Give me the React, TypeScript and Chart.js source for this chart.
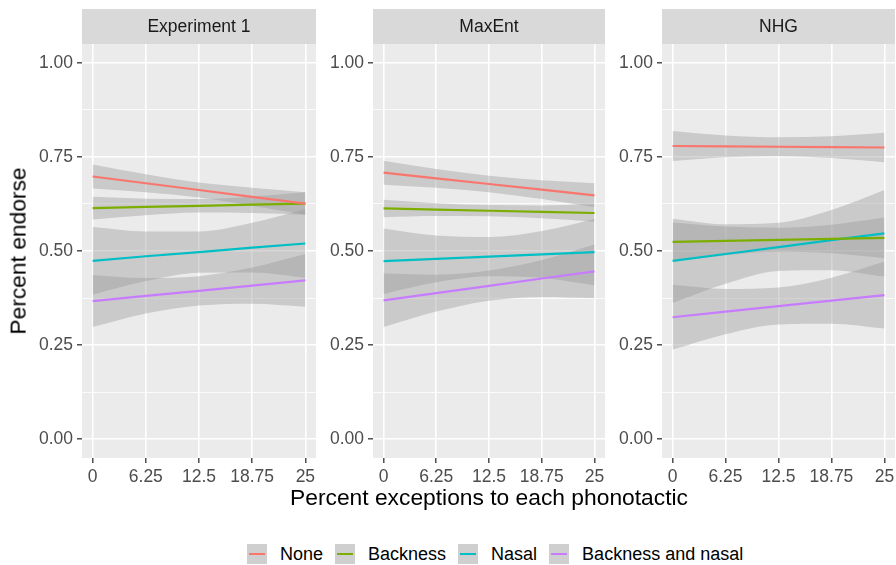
import React, { useEffect, useRef } from "react";
import { Chart, registerables } from "chart.js";

Chart.register(...registerables);

const FONT = '"Liberation Sans", Arial, Helvetica, sans-serif';

// Axis breaks
const xBreaks = [0, 6.25, 12.5, 18.75, 25];
const yBreaks = [0, 0.125, 0.25, 0.375, 0.5, 0.625, 0.75, 0.875, 1];
const yLabelled = [0, 0.25, 0.5, 0.75, 1];

const groups = ["None", "Backness", "Nasal", "Backness and nasal"];
const groupColors = ["#F8766D", "#7CAE00", "#00BFC4", "#C77CFF"];
const facets = ["Experiment 1", "MaxEnt", "NHG"];

// Experiment 1: fitted endorsement at each x break (one row per group) and its confidence band
const experimentFit = [
  [0.698, 0.68, 0.662, 0.644, 0.626],
  [0.614, 0.617, 0.62, 0.623, 0.626],
  [0.474, 0.486, 0.497, 0.509, 0.52],
  [0.367, 0.381, 0.394, 0.408, 0.422],
];
const experimentLower = [
  [0.666, 0.656, 0.642, 0.62, 0.596],
  [0.584, 0.595, 0.602, 0.601, 0.596],
  [0.384, 0.42, 0.442, 0.443, 0.429],
  [0.298, 0.334, 0.355, 0.36, 0.352],
];
const experimentUpper = [
  [0.73, 0.704, 0.682, 0.668, 0.656],
  [0.644, 0.639, 0.638, 0.645, 0.656],
  [0.564, 0.552, 0.552, 0.575, 0.611],
  [0.436, 0.428, 0.433, 0.456, 0.492],
];

// MaxEnt model
const maxEntFit = [
  [0.708, 0.693, 0.678, 0.663, 0.648],
  [0.613, 0.61, 0.607, 0.604, 0.601],
  [0.473, 0.479, 0.485, 0.491, 0.497],
  [0.369, 0.388, 0.4075, 0.427, 0.446],
];
const maxEntLower = [
  [0.676, 0.668, 0.656, 0.638, 0.616],
  [0.59, 0.593, 0.592, 0.587, 0.578],
  [0.386, 0.417, 0.433, 0.429, 0.409],
  [0.298, 0.339, 0.368, 0.378, 0.375],
];
const maxEntUpper = [
  [0.74, 0.718, 0.7, 0.688, 0.68],
  [0.636, 0.627, 0.622, 0.621, 0.624],
  [0.56, 0.541, 0.537, 0.553, 0.585],
  [0.44, 0.437, 0.448, 0.476, 0.517],
];

// NHG model
const nhgFit = [
  [0.779, 0.778, 0.777, 0.776, 0.775],
  [0.524, 0.527, 0.5295, 0.532, 0.535],
  [0.474, 0.492, 0.5105, 0.529, 0.547],
  [0.324, 0.339, 0.3535, 0.368, 0.383],
];
const nhgLower = [
  [0.739, 0.749, 0.752, 0.747, 0.736],
  [0.472, 0.489, 0.498, 0.494, 0.481],
  [0.362, 0.413, 0.447, 0.449, 0.432],
  [0.238, 0.279, 0.305, 0.307, 0.294],
];
const nhgUpper = [
  [0.819, 0.807, 0.802, 0.805, 0.814],
  [0.576, 0.565, 0.562, 0.57, 0.589],
  [0.586, 0.571, 0.575, 0.609, 0.662],
  [0.41, 0.399, 0.403, 0.429, 0.472],
];

const panels = [
  { title: facets[0], fit: experimentFit, lower: experimentLower, upper: experimentUpper, left: 0, width: 316, axisWidth: 82 },
  { title: facets[1], fit: maxEntFit, lower: maxEntLower, upper: maxEntUpper, left: 316, width: 289, axisWidth: 57 },
  { title: facets[2], fit: nhgFit, lower: nhgLower, upper: nhgUpper, left: 605, width: 290, axisWidth: 57 },
];

const RIBBON = "rgba(153,153,153,0.4)";
const PANEL_BG = "#EBEBEB";
const STRIP_BG = "#D9D9D9";
const CANVAS_H = 490;
const X_AXIS_H = 32;

const toPoints = (ys: number[]) => xBreaks.map((x, i) => ({ x, y: ys[i] }));

type PanelProps = {
  title: string;
  fit: number[][];
  lower: number[][];
  upper: number[][];
  left: number;
  width: number;
  axisWidth: number;
};

function Panel({ title, fit, lower, upper, left, width, axisWidth }: PanelProps) {
  const ref = useRef<HTMLCanvasElement | null>(null);

  useEffect(() => {
    if (!ref.current) return;

    const lineSets = fit.map((ys, g) => ({
      type: "line" as const,
      label: groups[g],
      data: toPoints(ys),
      borderColor: groupColors[g],
      borderWidth: 2.2,
      pointRadius: 0,
      fill: false,
      tension: 0,
      order: 0,
    }));

    const bandSets: any[] = [];
    upper.forEach((ys, g) => {
      bandSets.push({
        type: "line",
        label: groups[g] + " upper",
        data: toPoints(ys),
        borderColor: "transparent",
        borderWidth: 0,
        pointRadius: 0,
        backgroundColor: RIBBON,
        fill: "+1",
        cubicInterpolationMode: "monotone",
        order: 1,
      });
      bandSets.push({
        type: "line",
        label: groups[g] + " lower",
        data: toPoints(lower[g]),
        borderColor: "transparent",
        borderWidth: 0,
        pointRadius: 0,
        fill: false,
        cubicInterpolationMode: "monotone",
        order: 1,
      });
    });

    const panelDecor = {
      id: "panelDecor",
      beforeDraw(chart: any) {
        const { ctx, chartArea } = chart;
        ctx.save();
        ctx.fillStyle = PANEL_BG;
        ctx.fillRect(chartArea.left, chartArea.top, chartArea.right - chartArea.left, chartArea.bottom - chartArea.top);
        ctx.fillStyle = STRIP_BG;
        ctx.fillRect(chartArea.left, 9, chartArea.right - chartArea.left, chartArea.top - 9);
        ctx.fillStyle = "#1A1A1A";
        ctx.font = `17.5px ${FONT}`;
        ctx.textAlign = "center";
        ctx.textBaseline = "middle";
        ctx.fillText(title, (chartArea.left + chartArea.right) / 2, 27);
        ctx.restore();
      },
    };

    const chart = new Chart(ref.current, {
      type: "line",
      data: { datasets: [...lineSets, ...bandSets] },
      options: {
        animation: false,
        responsive: false,
        maintainAspectRatio: false,
        layout: { padding: { top: 44, left: 0, right: 0, bottom: 0 } },
        plugins: {
          legend: { display: false },
          tooltip: { enabled: false },
          filler: { propagate: false },
        },
        scales: {
          x: {
            type: "linear",
            min: -1.25,
            max: 26.25,
            afterBuildTicks: (s: any) => {
              s.ticks = xBreaks.map((v) => ({ value: v }));
            },
            afterFit: (s: any) => {
              s.height = X_AXIS_H;
              s.paddingLeft = 0;
              s.paddingRight = 0;
            },
            border: { display: false },
            grid: {
              color: "#FFFFFF",
              lineWidth: 1.6,
              tickColor: "#333333",
              tickWidth: 1.3,
              tickLength: 5,
            },
            ticks: {
              autoSkip: false,
              maxRotation: 0,
              padding: 4,
              color: "#4D4D4D",
              font: { family: FONT, size: 17.5 },
              callback: (v: any) => String(v),
            },
          },
          y: {
            type: "linear",
            min: -0.05,
            max: 1.05,
            afterBuildTicks: (s: any) => {
              s.ticks = yBreaks.map((v) => ({ value: v }));
            },
            afterFit: (s: any) => {
              s.width = axisWidth;
              s.paddingTop = 0;
              s.paddingBottom = 0;
            },
            border: { display: false },
            grid: {
              color: "#FFFFFF",
              lineWidth: (c: any) => (yLabelled.includes(c.tick?.value) ? 1.6 : 0.8),
              tickColor: (c: any) => (yLabelled.includes(c.tick?.value) ? "#333333" : "rgba(0,0,0,0)"),
              tickWidth: 1.3,
              tickLength: 5,
            },
            ticks: {
              autoSkip: false,
              padding: 4,
              color: "#4D4D4D",
              font: { family: FONT, size: 17.5 },
              callback: (v: any) => (yLabelled.includes(v) ? Number(v).toFixed(2) : ""),
            },
          },
        },
      } as any,
      plugins: [panelDecor],
    });

    return () => chart.destroy();
  }, [title, fit, lower, upper, axisWidth]);

  return (
    <canvas
      ref={ref}
      width={width}
      height={CANVAS_H}
      style={{ position: "absolute", left, top: 0, width, height: CANVAS_H, display: "block" }}
    />
  );
}

export default function App() {
  return (
    <div
      style={{
        position: "fixed",
        left: 0,
        top: 0,
        width: 896,
        height: 565,
        background: "#FFFFFF",
        fontFamily: FONT,
        overflow: "hidden",
      }}
    >
      {panels.map((p) => (
        <Panel key={p.title} {...p} />
      ))}

      <div
        style={{
          position: "absolute",
          left: 18,
          top: 251,
          transform: "translate(-50%, -50%) rotate(-90deg)",
          fontSize: 22.8,
          lineHeight: 1,
          color: "#000000",
          whiteSpace: "nowrap",
        }}
      >
        Percent endorse
      </div>

      <div
        style={{
          position: "absolute",
          left: 489,
          top: 486,
          transform: "translateX(-50%)",
          fontSize: 22.8,
          lineHeight: 1,
          color: "#000000",
          whiteSpace: "nowrap",
        }}
      >
        Percent exceptions to each phonotactic
      </div>

      <div
        style={{
          position: "absolute",
          left: 247,
          top: 544,
          height: 20,
          display: "flex",
          alignItems: "center",
          fontSize: 18,
          color: "#000000",
          whiteSpace: "nowrap",
        }}
      >
        {groups.map((g, i) => (
          <div key={g} style={{ display: "flex", alignItems: "center", marginRight: 12 }}>
            <div
              style={{
                width: 20,
                height: 20,
                background: "#CFCFCF",
                position: "relative",
                marginRight: 13,
              }}
            >
              <div
                style={{
                  position: "absolute",
                  left: 2,
                  right: 2,
                  top: 9,
                  height: 2,
                  background: groupColors[i],
                }}
              />
            </div>
            <span style={{ lineHeight: 1 }}>{g}</span>
          </div>
        ))}
      </div>
    </div>
  );
}
